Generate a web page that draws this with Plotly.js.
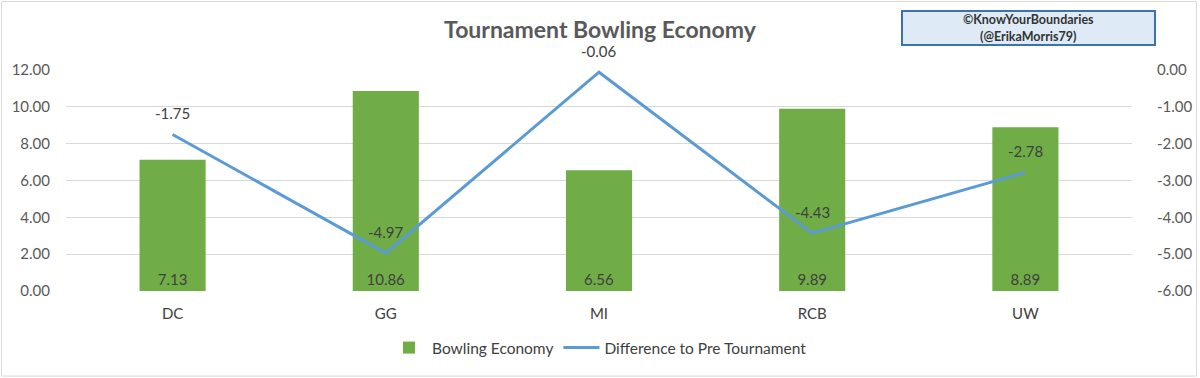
<!DOCTYPE html>
<html><head><meta charset="utf-8">
<script src="https://cdn.plot.ly/plotly-3.0.1.min.js"></script>
<style>html,body{margin:0;padding:0;background:#fff;}#chart{width:1200px;height:378px;}</style>
</head><body><div id="chart"></div>
<script>
const categories = ["DC", "GG", "MI", "RCB", "UW"];
const bowlingEconomy = [7.13, 10.86, 6.56, 9.89, 8.89];
const differenceToPre = [-1.75, -4.97, -0.06, -4.43, -2.78];
const leftTicks = [0, 2, 4, 6, 8, 10, 12];
const rightTicks = [-6, -5, -4, -3, -2, -1, 0];

const fontFam = "Lato, 'Open Sans', sans-serif";
const bars = {
  type: "bar", name: "Bowling Economy", x: categories, y: bowlingEconomy,
  marker: {color: "#70AD47"},
  text: bowlingEconomy.map(v => v.toFixed(2)), textposition: "inside", insidetextanchor: "start",
  textfont: {color: "#404040", size: 15, family: fontFam},
  hoverinfo: "x+y"
};
const line = {
  type: "scatter", mode: "lines", name: "Difference to Pre Tournament",
  x: categories, y: differenceToPre, yaxis: "y2",
  line: {color: "#5B9BD5", width: 3}, cliponaxis: false
};
const lineLabels = categories.map((c, i) => ({
  x: c, y: differenceToPre[i], xref: "x", yref: "y2", text: differenceToPre[i].toFixed(2),
  showarrow: false, yshift: 21, font: {color: "#404040", size: 15, family: fontFam}
}));
const layout = {
  width: 1200, height: 378,
  margin: {l: 66, r: 68, t: 70, b: 87},
  paper_bgcolor: "#fff", plot_bgcolor: "#fff",
  font: {family: fontFam, color: "#595959", size: 15},
  title: {text: "<b>Tournament Bowling Economy</b>", x: 0.5, xanchor: "center", y: 0.922, yanchor: "middle",
          font: {size: 23, color: "#595959", family: fontFam}},
  bargap: 0.69,
  showlegend: true,
  legend: {orientation: "h", x: 0.5, xanchor: "center", y: -0.258, yanchor: "middle",
           font: {size: 15.5, color: "#404040"}, traceorder: "normal", itemwidth: 36},
  xaxis: {type: "category", showgrid: false, zeroline: false, showline: false, ticks: "",
          ticklabelstandoff: 12, tickfont: {size: 15, color: "#404040"}},
  yaxis: {range: [0, 12], tickvals: leftTicks, ticktext: leftTicks.map(v => v.toFixed(2)),
          showgrid: true, gridcolor: "#D9D9D9", gridwidth: 1, zeroline: false, showline: false,
          ticklabelstandoff: 15, tickfont: {size: 15, color: "#595959"}},
  yaxis2: {range: [-6, 0], overlaying: "y", side: "right", tickvals: rightTicks,
           ticktext: rightTicks.map(v => v.toFixed(2)), showgrid: false, zeroline: false, showline: false,
           ticklabelstandoff: 24, tickfont: {size: 15, color: "#595959"}},
  shapes: [{type: "rect", xref: "paper", yref: "paper", x0: -0.0605, x1: 1.0605, y0: -0.385, y1: 1.31,
            line: {color: "#D9D9D9", width: 1}, fillcolor: "rgba(0,0,0,0)", layer: "below"}],
  annotations: [{xref: "paper", yref: "paper", x: 0.903, y: 1.19, xanchor: "center", yanchor: "middle",
    text: "<b>©KnowYourBoundaries<br>(@ErikaMorris79)</b>", showarrow: false,
    font: {size: 12.5, color: "#333333", family: fontFam},
    bgcolor: "#DEEBF7", bordercolor: "#3D72B0", borderwidth: 2, width: 249, height: 30, align: "center"}]
    .concat(lineLabels)
};
Plotly.newPlot("chart", [bars, line], layout, {displayModeBar: false, staticPlot: true});
</script></body></html>
